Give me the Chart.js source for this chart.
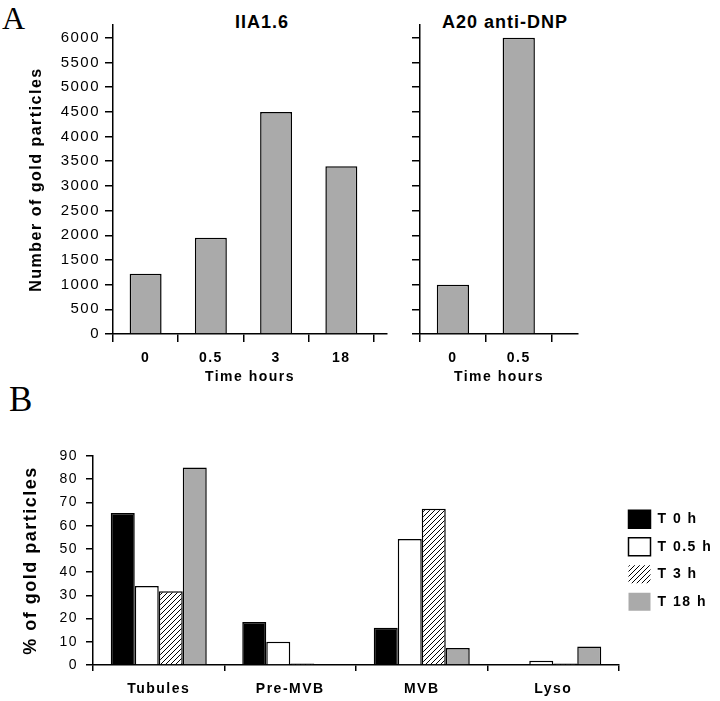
<!DOCTYPE html>
<html>
<head>
<meta charset="utf-8">
<script src="https://cdn.jsdelivr.net/npm/chart.js@4.4.1/dist/chart.umd.min.js"></script>
<style>
  body { margin: 0; background: #fff; }
  #wrap { position: relative; width: 720px; height: 701px; overflow: hidden; font-family: 'Liberation Sans', Arial, sans-serif; }
  canvas { position: absolute; }
  .panel { position: absolute; font-family: 'Liberation Serif', 'Times New Roman', serif; line-height: 1; }
  .ttl { position: absolute; font-weight: bold; font-size: 18px; letter-spacing: 1px; transform: translateX(-50%); white-space: nowrap; line-height: 1; }
</style>
</head>
<body>
<div id="wrap">
  <div class="panel" style="left:2px;top:2px;font-size:32px">A</div>
  <div class="panel" style="left:9px;top:382px;font-size:35px">B</div>
  <div class="ttl" style="left:262px;top:13px">IIA1.6</div>
  <div class="ttl" style="left:505px;top:13px">A20 anti-DNP</div>
  <canvas id="chartA1" width="395" height="390" style="left:0;top:0"></canvas>
  <canvas id="chartA2" width="325" height="390" style="left:395px;top:0"></canvas>
  <canvas id="chartB" width="720" height="281" style="left:0;top:420px"></canvas>
</div>
<script>
// 資料
const timesA = ['0', '0.5', '3', '18']
const countsA = [1220, 1950, 4500, 3400]
const timesB = ['0', '0.5']
const countsB = [1000, 6000]
const countTicks = [0, 500, 1000, 1500, 2000, 2500, 3000, 3500, 4000, 4500, 5000, 5500, 6000]

const compartments = ['Tubules', 'Pre-MVB', 'MVB', 'Lyso']
const seriesNames = ['T 0 h', 'T 0.5 h', 'T 3 h', 'T 18 h']
const t0 = [65.5, 18.5, 16, 0]
const t05 = [34, 10, 54.3, 1.8]
const t3 = [31.8, 0.6, 67.3, 0.6]
const t18 = [85, 0, 7.3, 8]
const percentTicks = [0, 10, 20, 30, 40, 50, 60, 70, 80, 90]

Chart.defaults.font.family = "'Liberation Sans', Arial, sans-serif"
Chart.defaults.color = '#000'

// 字距
const spacing = {
  id: 'spacing',
  beforeUpdate (chart) { chart.ctx.letterSpacing = '1.5px' },
  beforeDraw (chart) { chart.ctx.letterSpacing = '1.5px' }
}

const axisLine = { color: '#000', width: 1.5 }

// 上方兩張長條圖
function countChart (id, times, counts, xMax, yWidth, showLabels) {
  return new Chart(document.getElementById(id), {
    type: 'bar',
    data: {
      datasets: [{
        data: counts.map((v, i) => ({ x: i + 0.5, y: v })),
        backgroundColor: '#aaaaaa',
        borderColor: '#000',
        borderWidth: 1.5,
        barPercentage: 0.49,
        categoryPercentage: 1
      }]
    },
    options: {
      responsive: false,
      animation: false,
      layout: { padding: { top: 25, right: showLabels ? 8 : 142, left: 0, bottom: 0 } },
      plugins: { legend: { display: false }, tooltip: { enabled: false } },
      scales: {
        x: {
          type: 'linear',
          min: 0,
          max: xMax,
          offset: false,
          afterBuildTicks: (scale) => { scale.ticks = times.map((t, i) => ({ value: i + 0.5 })) },
          afterFit: (scale) => { scale.height = 56 },
          ticks: {
            autoSkip: false,
            maxRotation: 0,
            padding: 8,
            font: { size: 14, weight: 'bold' },
            callback: (v, i) => times[i]
          },
          grid: { offset: true, drawOnChartArea: false, color: '#000', lineWidth: 1.5, tickLength: 8 },
          border: axisLine,
          title: { display: true, text: 'Time hours', font: { size: 14, weight: 'bold' }, padding: { top: 0, bottom: 4 } }
        },
        y: {
          min: 0,
          max: 6260,
          afterBuildTicks: (scale) => { scale.ticks = countTicks.map(v => ({ value: v })) },
          afterFit: (scale) => { scale.width = yWidth },
          ticks: { display: showLabels, padding: 5, font: { size: 15 }, callback: v => String(v) },
          grid: { drawOnChartArea: false, color: '#000', lineWidth: 1.5, tickLength: 8 },
          border: axisLine,
          title: {
            display: showLabels,
            text: 'Number of gold particles',
            font: { size: 16, weight: 'bold' },
            padding: { top: 27, bottom: 0 }
          }
        }
      }
    },
    plugins: [spacing]
  })
}

countChart('chartA1', timesA, countsA, 4.2, 113, true)
countChart('chartA2', timesB, countsB, 2.4, 25, false)

// 斜線填色
const ctxB = document.getElementById('chartB').getContext('2d')
function makeHatch () {
  const c = document.createElement('canvas')
  c.width = 5
  c.height = 5
  const g = c.getContext('2d')
  g.fillStyle = '#fff'
  g.fillRect(0, 0, 5, 5)
  g.strokeStyle = '#000'
  g.lineWidth = 1
  g.beginPath()
  g.moveTo(0, 5); g.lineTo(5, 0)
  g.moveTo(-1, 1); g.lineTo(1, -1)
  g.moveTo(4, 6); g.lineTo(6, 4)
  g.stroke()
  return ctxB.createPattern(c, 'repeat')
}
const hatch = makeHatch()

// 下方分組長條圖
new Chart(ctxB, {
  type: 'bar',
  data: {
    labels: compartments,
    datasets: [
      { label: seriesNames[0], data: t0, backgroundColor: '#000' },
      { label: seriesNames[1], data: t05, backgroundColor: '#fff' },
      { label: seriesNames[2], data: t3, backgroundColor: hatch },
      { label: seriesNames[3], data: t18, backgroundColor: '#aaaaaa' }
    ]
  },
  options: {
    responsive: false,
    animation: false,
    datasets: {
      bar: { borderColor: '#000', borderWidth: 1.5, categoryPercentage: 0.73, barPercentage: 1 }
    },
    layout: { padding: { top: 36, right: 0, left: 0, bottom: 0 } },
    plugins: {
      tooltip: { enabled: false },
      legend: {
        position: 'right',
        fullSize: false,
        maxWidth: 101,
        labels: {
          boxWidth: 22,
          boxHeight: 18,
          padding: 9.5,
          color: '#000',
          font: { size: 14, weight: 'bold' },
          generateLabels (chart) {
            const items = Chart.defaults.plugins.legend.labels.generateLabels(chart)
            items.forEach((item, i) => { if (i >= 2) item.lineWidth = 0 })
            return items
          }
        }
      }
    },
    scales: {
      x: {
        afterFit: (scale) => { scale.height = 36 },
        ticks: { padding: 10, font: { size: 14, weight: 'bold' } },
        grid: { offset: true, drawOnChartArea: false, color: '#000', lineWidth: 1.5, tickLength: 6 },
        border: axisLine
      },
      y: {
        min: 0,
        max: 90,
        afterBuildTicks: (scale) => { scale.ticks = percentTicks.map(v => ({ value: v })) },
        afterFit: (scale) => { scale.width = 93 },
        ticks: { padding: 8, font: { size: 14 } },
        grid: { drawOnChartArea: false, color: '#000', lineWidth: 1.5, tickLength: 7 },
        border: axisLine,
        title: {
          display: true,
          text: '% of gold particles',
          font: { size: 18, weight: 'bold' },
          padding: { top: 20, bottom: 0 }
        }
      }
    }
  },
  plugins: [spacing]
})
</script>
</body>
</html>
